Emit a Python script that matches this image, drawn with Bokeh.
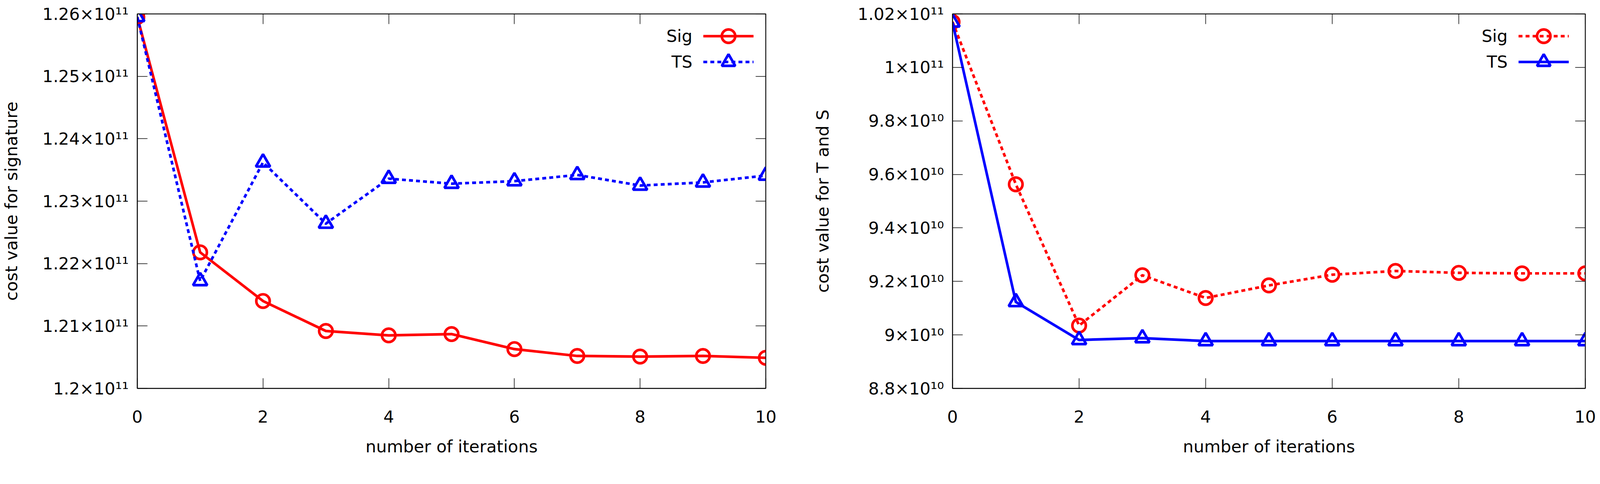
from bokeh.plotting import figure
from bokeh.models import (FixedTicker, CustomJSTickFormatter, LinearAxis, Legend,
                          LegendItem, Range1d, Label)
from bokeh.layouts import row
from bokeh.embed import file_html
from bokeh.resources import INLINE

# ---------------- data ----------------
iterations = [0, 1, 2, 3, 4, 5, 6, 7, 8, 9, 10]
x_ticks = [0, 2, 4, 6, 8, 10]

# left panel: cost value for signature
sig_signature = [1.2595e11, 1.2218e11, 1.2140e11, 1.2092e11, 1.2085e11, 1.2087e11,
                 1.2063e11, 1.2052e11, 1.2051e11, 1.2052e11, 1.2049e11]
ts_signature = [1.2595e11, 1.2172e11, 1.2362e11, 1.2264e11, 1.2336e11, 1.2328e11,
                1.2332e11, 1.2342e11, 1.2325e11, 1.2330e11, 1.2341e11]

# right panel: cost value for T and S
sig_ts = [1.0170e11, 9.563e10, 9.035e10, 9.223e10, 9.138e10, 9.185e10,
          9.225e10, 9.239e10, 9.232e10, 9.230e10, 9.230e10]
ts_ts = [1.0168e11, 9.123e10, 8.981e10, 8.988e10, 8.977e10, 8.977e10,
         8.977e10, 8.977e10, 8.977e10, 8.977e10, 8.977e10]

left_y_ticks = [1.20e11, 1.21e11, 1.22e11, 1.23e11, 1.24e11, 1.25e11, 1.26e11]
left_y_labels = ["1.2×10¹¹", "1.21×10¹¹", "1.22×10¹¹", "1.23×10¹¹",
                 "1.24×10¹¹", "1.25×10¹¹", "1.26×10¹¹"]
right_y_ticks = [8.8e10, 9.0e10, 9.2e10, 9.4e10, 9.6e10, 9.8e10, 1.0e11, 1.02e11]
right_y_labels = ["8.8×10¹⁰", "9×10¹⁰", "9.2×10¹⁰", "9.4×10¹⁰",
                  "9.6×10¹⁰", "9.8×10¹⁰", "1×10¹¹", "1.02×10¹¹"]

x_label = "number of iterations"
left_y_title = "cost value for signature"
right_y_title = "cost value for T and S"
series_names = ["Sig", "TS"]

# ---------------- style ----------------
FONT = "DejaVu Sans"
FS = "43px"
RED = "#ff0000"
BLUE = "#0000ff"
LW = 6.7
DASH = "10 8"
TICK_IN = 26
FIG_H = 1169
BORDER_TOP = 35
BORDER_BOTTOM = 162
FRAME_H = FIG_H - BORDER_TOP - BORDER_BOTTOM


def lookup_formatter(vals, labs):
    return CustomJSTickFormatter(args=dict(vals=vals, labs=labs), code="""
        let best = 0; let d = Infinity;
        for (let i = 0; i < vals.length; i++) {
            const e = Math.abs(vals[i] - tick);
            if (e < d) { d = e; best = i; }
        }
        return labs[best];
    """)


def style_axis(ax, ticks, show_labels=True):
    ax.ticker = FixedTicker(ticks=ticks, minor_ticks=[])
    ax.major_tick_in = TICK_IN
    ax.major_tick_out = 0
    ax.minor_tick_line_color = None
    ax.major_tick_line_color = "black"
    ax.major_tick_line_width = 1.5
    ax.axis_line_color = "black"
    ax.axis_line_width = 2
    ax.major_label_text_font = FONT
    ax.major_label_text_font_size = FS
    ax.major_label_text_color = "black" if show_labels else None
    ax.axis_label_text_font = FONT
    ax.axis_label_text_font_size = FS
    ax.axis_label_text_font_style = "normal"
    ax.axis_label_text_color = "black"


def make_panel(width, border_left, border_right, y_start, y_end, y_ticks, y_labels,
               y_title, ylabel_standoff):
    p = figure(width=width, height=FIG_H, x_range=Range1d(0, 10),
               y_range=Range1d(y_start, y_end), output_backend="svg",
               toolbar_location=None, min_border_left=border_left,
               min_border_right=border_right, min_border_top=BORDER_TOP,
               min_border_bottom=BORDER_BOTTOM)
    p.background_fill_color = "white"
    p.border_fill_color = "white"
    p.outline_line_color = "black"
    p.outline_line_width = 2
    p.xgrid.visible = False
    p.ygrid.visible = False

    xa = p.xaxis[0]
    style_axis(xa, x_ticks)
    xa.axis_label = x_label
    xa.major_label_standoff = 56
    xa.axis_label_standoff = 33

    ya = p.yaxis[0]
    style_axis(ya, y_ticks)
    ya.formatter = lookup_formatter(y_ticks, y_labels)
    ya.axis_label = y_title
    ya.major_label_standoff = 22
    ya.axis_label_standoff = ylabel_standoff

    top = LinearAxis(fixed_location=y_end)
    style_axis(top, x_ticks, show_labels=False)
    p.add_layout(top, "above")
    right = LinearAxis(fixed_location=10)
    style_axis(right, y_ticks, show_labels=False)
    p.add_layout(right, "right")
    return p


def add_series(p, vals, color, marker, size, dash):
    ln = p.line(iterations, vals, line_color=color, line_width=LW, line_dash=dash,
                line_join="round")
    sc = p.scatter(iterations, vals, marker=marker, size=size, fill_color=None,
                   line_color=color, line_width=LW)
    return [ln, sc]


def add_legend(p, r_sig, r_ts):
    # key samples (gnuplot style: text on the left, sample on the right)
    rows = [(series_names[0], r_sig, 70.8), (series_names[1], r_ts, 136.9)]
    for name, rends, center_from_top in rows:
        glyph_h = 86
        bottom = FRAME_H - center_from_top - glyph_h / 2
        lg = Legend(items=[LegendItem(label=" ", renderers=rends)],
                    location=(1449, bottom), orientation="vertical",
                    glyph_width=129, glyph_height=glyph_h, spacing=0, padding=0,
                    margin=0, label_standoff=0, label_width=1,
                    label_text_font=FONT, label_text_font_size="8px",
                    background_fill_alpha=0, border_line_alpha=0)
        p.add_layout(lg)
        p.add_layout(Label(x=1421, y=FRAME_H - center_from_top, x_units="screen",
                           y_units="screen", text=name, text_align="right",
                           text_baseline="middle", text_font=FONT,
                           text_font_size=FS, text_color="black"))


# left panel
p1 = make_panel(2057, 337, 97, 1.20e11, 1.26e11, left_y_ticks, left_y_labels,
                left_y_title, 52)
r1 = add_series(p1, sig_signature, RED, "circle", 34.4, "solid")
r2 = add_series(p1, ts_signature, BLUE, "triangle", 36.4, DASH)
add_legend(p1, r1, r2)

# right panel
p2 = make_panel(2028, 381, 27, 8.8e10, 1.02e11, right_y_ticks, right_y_labels,
                right_y_title, 62)
r3 = add_series(p2, sig_ts, RED, "circle", 34.4, DASH)
r4 = add_series(p2, ts_ts, BLUE, "triangle", 36.4, "solid")
add_legend(p2, r3, r4)

layout = row(p1, p2)
open("out.html", "w").write(file_html(layout, INLINE))
